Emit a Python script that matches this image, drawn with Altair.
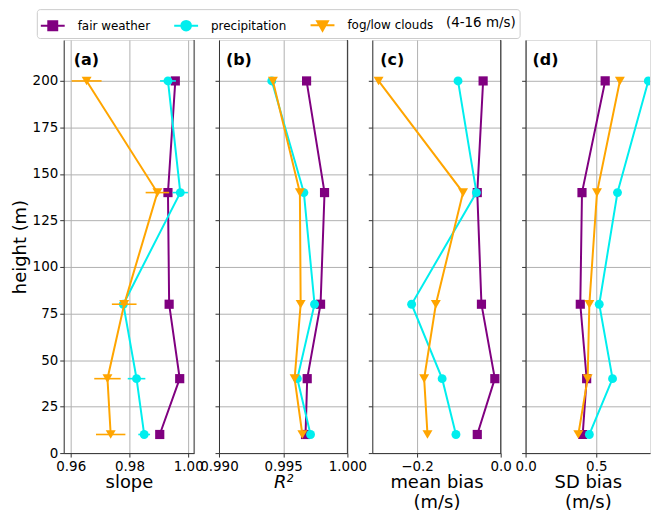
import altair as alt
import pandas as pd

# ---------------- data ----------------
heights = [200, 140, 80, 40, 10]
series_names = ["fair weather", "precipitation", "fog/low clouds"]
series_colors = ["#800080", "#00eeee", "#ffa500"]
series_shapes = ["square", "circle", "triangle-down"]
legend_note = "(4-16 m/s)"
panel_tags = ["(a)", "(b)", "(c)", "(d)"]

slope_fair = [0.9956, 0.9931, 0.9935, 0.9971, 0.9903]
slope_precip = [0.9931, 0.9973, 0.9779, 0.9824, 0.9850]
slope_fog = [0.9654, 0.9895, 0.9782, 0.9725, 0.9736]
slope_err_precip = [0.0027, 0.0026, 0.0015, 0.0030, 0.0020]
slope_err_fog = [0.0051, 0.0040, 0.0042, 0.0045, 0.0050]

r2_fair = [0.99682, 0.99822, 0.99791, 0.99687, 0.99674]
r2_precip = [0.99411, 0.99661, 0.99744, 0.99610, 0.99713]
r2_fog = [0.99420, 0.99630, 0.99636, 0.99589, 0.99649]

mb_fair = [-0.042, -0.056, -0.046, -0.014, -0.056]
mb_precip = [-0.102, -0.058, -0.213, -0.140, -0.107]
mb_fog = [-0.292, -0.090, -0.155, -0.183, -0.175]

sd_fair = [0.563, 0.399, 0.387, 0.432, 0.404]
sd_precip = [0.868, 0.650, 0.521, 0.615, 0.451]
sd_fog = [0.667, 0.505, 0.451, 0.439, 0.373]

y_ticks = [0, 25, 50, 75, 100, 125, 150, 175, 200]

metric_values = {
    "slope": [slope_fair, slope_precip, slope_fog],
    "r2": [r2_fair, r2_precip, r2_fog],
    "mb": [mb_fair, mb_precip, mb_fog],
    "sd": [sd_fair, sd_precip, sd_fog],
}
metric_errors = {"slope": [None, slope_err_precip, slope_err_fog]}

rows = []
for metric, vals in metric_values.items():
    errs = metric_errors.get(metric, [None, None, None])
    for name, v, e in zip(series_names, vals, errs):
        for i, h in enumerate(heights):
            err = e[i] if e is not None else 0.0
            rows.append({"metric": metric, "series": name, "height": h,
                         "value": v[i], "lo": v[i] - err, "hi": v[i] + err,
                         "has_err": e is not None})
df = pd.DataFrame(rows)

# ---------------- layout / style ----------------
FONT = "DejaVu Sans"
SPINE = "#333333"
H = 415
YMAX = 222
marker_size = {"square": 85, "circle": 80, "triangle-down": 100}
legend_paths = [
    "M-1,0H1M-0.375,-0.375H0.375V0.375H-0.375Z",
    "M-1,0H1M0.4,0A0.4,0.4,0,1,1,-0.4,0A0.4,0.4,0,1,1,0.4,0Z",
    "M-1,0H1M-0.45,-0.35H0.45L0,0.45Z",
]

panels = [
    dict(metric="slope", title="slope", domain=[0.9576, 1.002], ticks=[0.96, 0.98, 1.00],
         fmt=".2f", tag=panel_tags[0], tagx=10, width=131, first=True, right=True,
         style="normal", clip=False),
    dict(metric="r2", title="R²", domain=[0.990, 1.000], ticks=[0.990, 0.995, 1.000],
         fmt=".3f", tag=panel_tags[1], tagx=7, width=129, first=False, right=True,
         style="italic", clip=False),
    dict(metric="mb", title=["mean bias", "(m/s)"], domain=[-0.307, 0.0], ticks=[-0.2, 0.0],
         fmt=".1f", tag=panel_tags[2], tagx=8, width=129, first=False, right=True,
         style="normal", clip=False),
    dict(metric="sd", title=["SD bias", "(m/s)"], domain=[0.0, 0.88], ticks=[0.0, 0.5],
         fmt=".1f", tag=panel_tags[3], tagx=7, width=125, first=False, right=False,
         style="normal", clip=True),
]


def make_panel(p):
    d = df[df["metric"] == p["metric"]]
    xs = alt.Scale(domain=p["domain"], nice=False, zero=False)
    ys = alt.Scale(domain=[0, YMAX], nice=False, zero=False)
    xaxis = alt.Axis(title=p["title"], values=p["ticks"], format=p["fmt"], grid=True,
                     labelFlush=False, titleFontStyle=p["style"])
    if p["first"]:
        yaxis = alt.Axis(title="height (m)", values=y_ticks, grid=True, labelFlush=False)
    else:
        yaxis = alt.Axis(title=None, values=y_ticks, grid=True, labels=False)

    layers = []
    for name, color, shape in zip(series_names, series_colors, series_shapes):
        s = alt.Chart(d).transform_filter(alt.datum.series == name)
        if p["metric"] in metric_errors and bool(d[d["series"] == name]["has_err"].iloc[0]):
            layers.append(
                s.mark_rule(color=color, strokeWidth=1.6, clip=p["clip"]).encode(
                    x=alt.X("lo:Q", scale=xs, axis=xaxis),
                    x2="hi:Q",
                    y=alt.Y("height:Q", scale=ys, axis=yaxis),
                )
            )
        layers.append(
            s.mark_line(color=color, strokeWidth=2, clip=p["clip"]).encode(
                x=alt.X("value:Q", scale=xs, axis=xaxis),
                y=alt.Y("height:Q", scale=ys, axis=yaxis),
                order=alt.Order("height:Q"),
            )
        )
        layers.append(
            s.mark_point(filled=True, shape=shape, size=marker_size[shape], color=color,
                         opacity=1, clip=p["clip"]).encode(
                x=alt.X("value:Q", scale=xs, axis=xaxis),
                y=alt.Y("height:Q", scale=ys, axis=yaxis),
            )
        )

    if p["right"]:
        layers.append(
            alt.Chart(pd.DataFrame({"k": [0]})).mark_rule(color=SPINE, strokeWidth=1).encode(
                x=alt.value(p["width"]), y=alt.value(0), y2=alt.value(H)
            )
        )

    layers.append(
        alt.Chart(pd.DataFrame({"tag": [p["tag"]]})).mark_text(
            align="left", baseline="middle", fontWeight="bold", fontSize=16, font=FONT,
            color="black").encode(text="tag:N", x=alt.value(p["tagx"]), y=alt.value(20))
    )

    if p["first"]:
        leg = alt.Legend(
            orient="none", legendX=-27, legendY=-31, direction="horizontal",
            title=legend_note, titleOrient="right", titlePadding=13,
            titleFontWeight="normal", titleFontSize=13.5, titleFont=FONT, titleColor="black",
            labelFont=FONT, labelFontSize=12, labelColor="black", labelOffset=12,
            columnPadding=20, symbolSize=576, symbolStrokeWidth=2, padding=3,
            fillColor="white", strokeColor="#cccccc", cornerRadius=3,
        )
        leg_df = pd.DataFrame({"series": series_names, "height": [-50, -50, -50],
                               "value": [0.98, 0.98, 0.98]})
        layers.append(
            alt.Chart(leg_df).mark_point(filled=True, clip=True, opacity=1, strokeWidth=2,
                                         size=576).encode(
                x=alt.X("value:Q", scale=xs, axis=xaxis),
                y=alt.Y("height:Q", scale=ys, axis=yaxis),
                fill=alt.Fill("series:N", scale=alt.Scale(domain=series_names,
                                                          range=series_colors), legend=leg),
                stroke=alt.Stroke("series:N", scale=alt.Scale(domain=series_names,
                                                              range=series_colors), legend=leg),
                shape=alt.Shape("series:N", scale=alt.Scale(domain=series_names,
                                                            range=legend_paths), legend=leg),
            )
        )

    return alt.layer(*layers).properties(width=p["width"], height=H)


charts = [make_panel(p) for p in panels]

chart = (
    alt.hconcat(*charts, spacing=25, bounds="flush")
    .properties(padding={"left": 10, "top": 7, "right": 0, "bottom": 0})
    .configure_view(stroke="transparent")
    .configure(font=FONT)
    .configure_axis(
        labelFont=FONT, labelFontSize=13.5, labelColor="black",
        titleFont=FONT, titleFontSize=18, titleFontWeight="normal", titleColor="black",
        tickColor=SPINE, tickSize=4, labelPadding=2, domainColor=SPINE, domainWidth=1,
        gridColor="#b0b0b0", gridWidth=1, titleLineHeight=20,
    )
    .configure_axisX(titlePadding=1)
    .configure_axisY(titlePadding=3)
)

chart.save("out.html", embed_options={"renderer": "svg", "actions": False})
